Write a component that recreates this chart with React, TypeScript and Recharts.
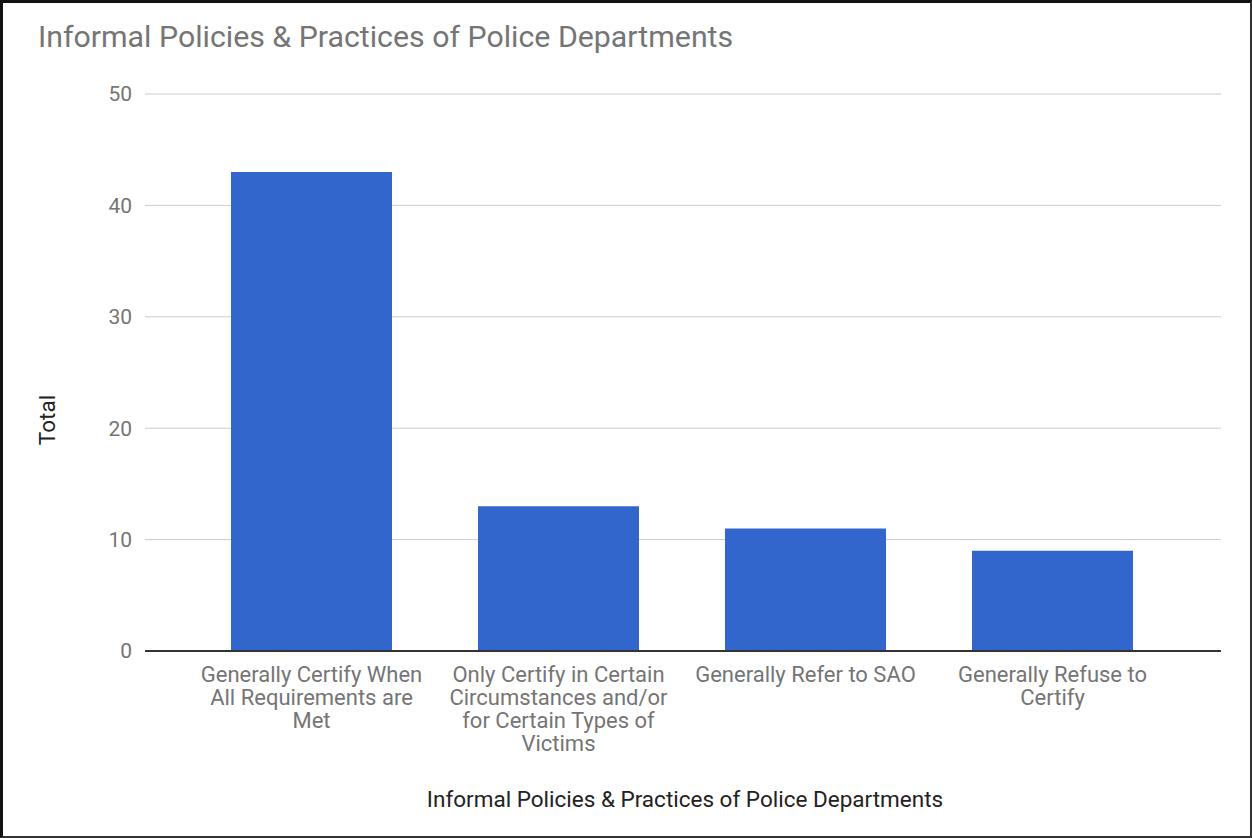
import React from 'react';
import { BarChart, Bar, XAxis, YAxis, CartesianGrid } from 'recharts';

const categories = [
  'Generally Certify When All Requirements are Met',
  'Only Certify in Certain Circumstances and/or for Certain Types of Victims',
  'Generally Refer to SAO',
  'Generally Refuse to Certify',
];

// Line breaks used for the category labels under the axis
const categoryLines = [
  ['Generally Certify When', 'All Requirements are', 'Met'],
  ['Only Certify in Certain', 'Circumstances and/or', 'for Certain Types of', 'Victims'],
  ['Generally Refer to SAO'],
  ['Generally Refuse to', 'Certify'],
];

const totals = [43, 13, 11, 9];

const yTicks = [0, 10, 20, 30, 40, 50];

const title = 'Informal Policies & Practices of Police Departments';
const xTitle = 'Informal Policies & Practices of Police Departments';
const yTitle = 'Total';

const data = categories.map((name, i) => ({ name, total: totals[i] }));

const FONT = 'Roboto, "Noto Sans", Arial, sans-serif';

const CategoryTick = (props: any) => {
  const { x, y, index } = props;
  const lines = categoryLines[index] || [];
  return (
    <text
      x={x}
      y={y}
      textAnchor="middle"
      fill="#757575"
      fontSize={22}
      fontFamily={FONT}
    >
      {lines.map((line, i) => (
        <tspan key={i} x={x} dy={i === 0 ? 21 : 23}>
          {line}
        </tspan>
      ))}
    </text>
  );
};

const App: React.FC = () => {
  return (
    <div
      style={{
        position: 'fixed',
        left: 0,
        top: 0,
        width: 1252,
        height: 838,
        boxSizing: 'border-box',
        borderTop: '3px solid #111',
        borderLeft: '3px solid #111',
        borderRight: '2px solid #333',
        borderBottom: '2px solid #333',
        background: '#fff',
        overflow: 'hidden',
        fontFamily: FONT,
      }}
    >
      <div style={{ position: 'absolute', left: -3, top: -3 }}>
        <BarChart
          width={1252}
          height={838}
          data={data}
          margin={{ top: 94, right: 31, bottom: 87, left: 45 }}
        >
          <CartesianGrid vertical={false} stroke="#cccccc" strokeWidth={1} />
          <XAxis
            dataKey="name"
            height={100}
            padding={{ left: 43, right: 45 }}
            tickLine={false}
            axisLine={{ stroke: '#333333', strokeWidth: 2 }}
            interval={0}
            tick={<CategoryTick />}
            tickSize={0}
            tickMargin={10}
          />
          <YAxis
            width={100}
            domain={[0, 50]}
            ticks={yTicks}
            axisLine={false}
            tickLine={false}
            tickSize={0}
            tickMargin={13}
            tick={{ fill: '#757575', fontSize: 21, fontFamily: FONT }}
          />
          <Bar dataKey="total" fill="#3366cc" barSize={161} isAnimationActive={false} />
        </BarChart>
      </div>
      {/* chart title */}
      <div
        style={{
          position: 'absolute',
          left: 35,
          top: 16,
          fontSize: 30.3,
          lineHeight: '36px',
          color: '#757575',
          whiteSpace: 'nowrap',
        }}
      >
        {title}
      </div>
      {/* horizontal axis title */}
      <div
        style={{
          position: 'absolute',
          left: 0,
          width: 1364,
          top: 782,
          textAlign: 'center',
          fontSize: 22.5,
          lineHeight: '28px',
          color: '#222222',
          whiteSpace: 'nowrap',
        }}
      >
        {xTitle}
      </div>
      {/* vertical axis title */}
      <div
        style={{
          position: 'absolute',
          left: 44 - 50,
          top: 417 - 14,
          width: 100,
          textAlign: 'center',
          fontSize: 22.5,
          lineHeight: '28px',
          color: '#222222',
          transform: 'rotate(-90deg)',
          whiteSpace: 'nowrap',
        }}
      >
        {yTitle}
      </div>
    </div>
  );
};

export default App;
